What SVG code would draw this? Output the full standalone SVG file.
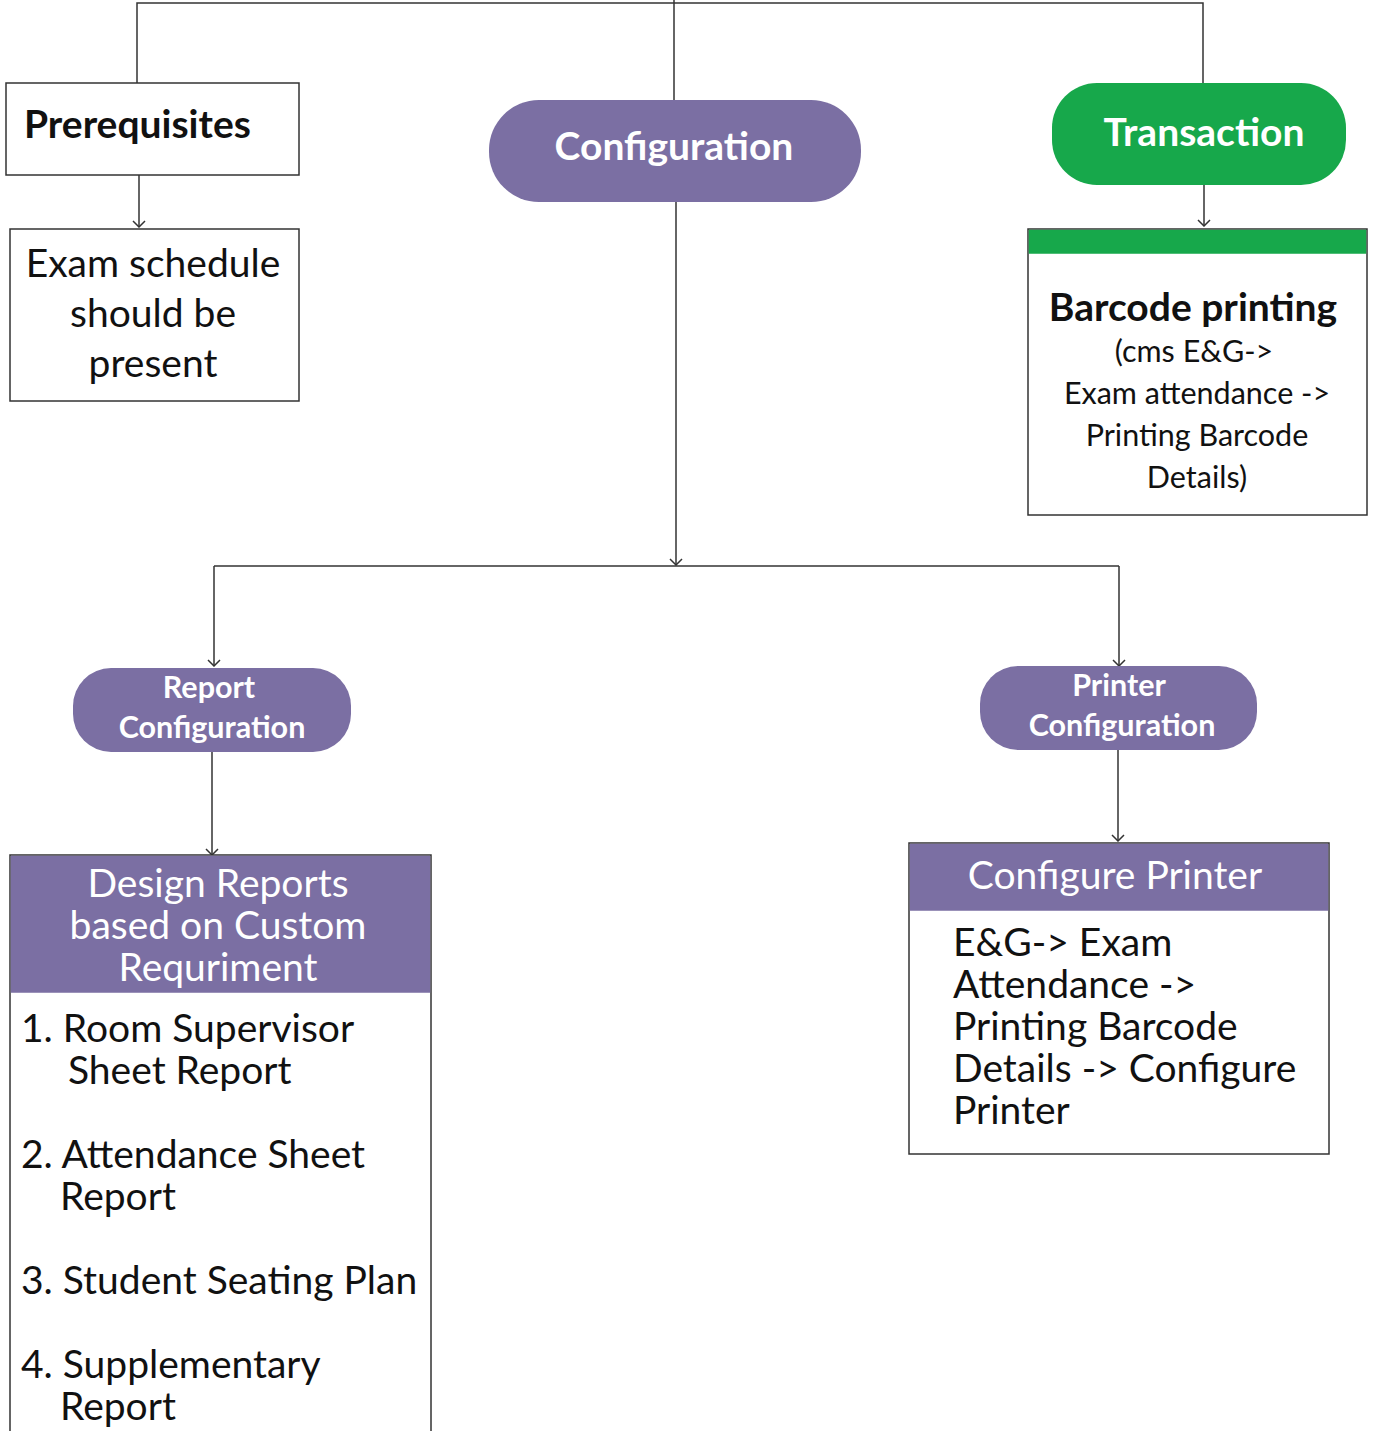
<svg xmlns="http://www.w3.org/2000/svg" width="1374" height="1431" viewBox="0 0 1374 1431">
<style>
text{font-family:Lato,"Liberation Sans",sans-serif;}
.box{fill:#fff;stroke:#333;stroke-width:1.5;}
.pill{fill:#7b6fa3;}
.green{fill:#17a84b;}
.wb{fill:#fff;font-weight:bold;text-anchor:middle;}
.wh{fill:#fff;text-anchor:middle;}
.bk{fill:#111;}
.c{text-anchor:middle;}
.conn{fill:none;stroke:#333;stroke-width:1.5;}
.big{font-size:39px;}
.sm{font-size:30.5px;}
</style>
<defs>
<marker id="arrd" markerUnits="userSpaceOnUse" markerWidth="14" markerHeight="10" refX="7" refY="9" viewBox="0 0 14 10">
<path d="M1,3 L7,9 L13,3" fill="none" stroke="#333" stroke-width="1.5"/>
</marker>
</defs>
<g id="connectors">
<path class="conn" d="M137,83 V3 H1203 V83"/>
<path class="conn" d="M674,0 V100"/>
<path class="conn" d="M676,202 V565" marker-end="url(#arrd)"/>
<path class="conn" d="M214,566 H1119"/>
<path class="conn" d="M214,566 V666" marker-end="url(#arrd)"/>
<path class="conn" d="M1119,566 V666" marker-end="url(#arrd)"/>
<path class="conn" d="M139,175 V227" marker-end="url(#arrd)"/>
<path class="conn" d="M1204,185 V226" marker-end="url(#arrd)"/>
<path class="conn" d="M212,752 V855" marker-end="url(#arrd)"/>
<path class="conn" d="M1118,750 V841" marker-end="url(#arrd)"/>
</g>
<g id="prerequisites">
<rect class="box" x="6" y="83" width="293" height="92"/>
<text class="bk big" x="24" y="138" font-weight="bold">Prerequisites</text>
</g>
<g id="exam-schedule">
<rect class="box" x="10" y="229" width="289" height="172"/>
<text class="bk c big" x="153" y="277">Exam schedule</text>
<text class="bk c big" x="153" y="327">should be</text>
<text class="bk c big" x="153" y="377">present</text>
</g>
<g id="configuration">
<rect class="pill" x="489" y="100" width="372" height="102" rx="50" ry="50"/>
<text class="wb big" x="674" y="160">Configuration</text>
</g>
<g id="transaction">
<rect class="green" x="1052" y="83" width="294" height="102" rx="45" ry="45"/>
<text class="wb big" x="1204" y="146">Transaction</text>
</g>
<g id="barcode-printing">
<rect class="box" x="1028" y="229" width="339" height="286"/>
<rect class="green" x="1028.75" y="229.75" width="337.5" height="24"/>
<text class="bk c big" x="1193" y="321" font-weight="bold">Barcode printing</text>
<text class="bk c sm" x="1194" y="362">(cms E&amp;G-&gt;</text>
<text class="bk c sm" x="1197" y="404">Exam attendance -&gt;</text>
<text class="bk c sm" x="1197" y="446">Printing Barcode</text>
<text class="bk c sm" x="1197" y="488">Details)</text>
</g>
<g id="report-configuration">
<rect class="pill" x="73" y="668" width="278" height="84" rx="38" ry="38"/>
<text class="wb sm" x="209" y="698">Report</text>
<text class="wb sm" x="212" y="738">Configuration</text>
</g>
<g id="printer-configuration">
<rect class="pill" x="980" y="666" width="277" height="84" rx="38" ry="38"/>
<text class="wb sm" x="1119" y="696">Printer</text>
<text class="wb sm" x="1122" y="736">Configuration</text>
</g>
<g id="design-reports">
<rect class="box" x="10" y="855" width="421" height="590"/>
<rect class="pill" x="10.75" y="855.75" width="419.5" height="137"/>
<text class="wh big" x="218" y="897">Design Reports</text>
<text class="wh big" x="218" y="939">based on Custom</text>
<text class="wh big" x="218" y="981">Requriment</text>
<text class="bk big" x="21" y="1042">1. Room Supervisor</text>
<text class="bk big" x="68" y="1084">Sheet Report</text>
<text class="bk big" x="21" y="1168">2. Attendance Sheet</text>
<text class="bk big" x="60" y="1210">Report</text>
<text class="bk big" x="21" y="1294">3. Student Seating Plan</text>
<text class="bk big" x="21" y="1378">4. Supplementary</text>
<text class="bk big" x="60" y="1420">Report</text>
</g>
<g id="configure-printer">
<rect class="box" x="909" y="843" width="420" height="311"/>
<rect class="pill" x="909.75" y="843.75" width="418.5" height="67"/>
<text class="wh big" x="1115" y="889">Configure Printer</text>
<text class="bk big" x="953" y="956">E&amp;G-&gt; Exam</text>
<text class="bk big" x="953" y="998">Attendance -&gt;</text>
<text class="bk big" x="953" y="1040">Printing Barcode</text>
<text class="bk big" x="953" y="1082">Details -&gt; Configure</text>
<text class="bk big" x="953" y="1124">Printer</text>
</g>
</svg>
